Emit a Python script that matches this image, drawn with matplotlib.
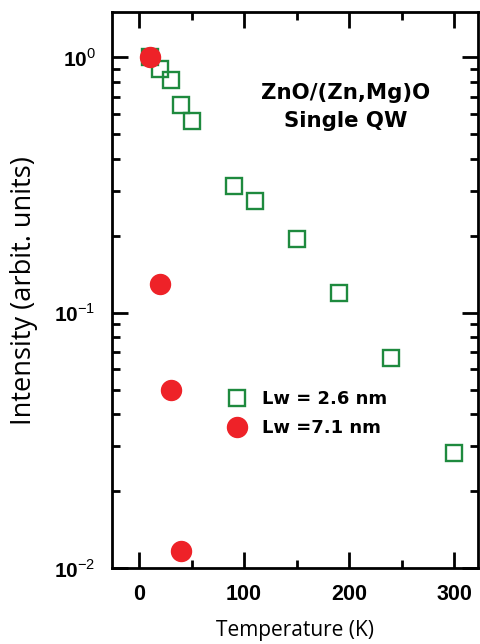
import math
import matplotlib
matplotlib.use('Agg')
import matplotlib.pyplot as plt
from matplotlib.ticker import LogLocator, FuncFormatter, NullFormatter, MultipleLocator

# data
temp_26 = [10, 20, 30, 40, 50, 90, 110, 150, 190, 240, 300]
int_26 = [1.0, 0.903, 0.815, 0.652, 0.566, 0.315, 0.274, 0.194, 0.120, 0.0664, 0.0282]
temp_71 = [10, 20, 30, 40]
int_71 = [1.0, 0.129, 0.0497, 0.0117]

label_26 = 'Lw = 2.6 nm'
label_71 = 'Lw =7.1 nm'
sample_text = 'ZnO/(Zn,Mg)O\nSingle QW'

green = '#1e8a3e'
red = '#ee2228'

plt.rcParams['mathtext.fontset'] = 'custom'
plt.rcParams['mathtext.rm'] = 'Liberation Sans'
plt.rcParams['mathtext.bf'] = 'Liberation Sans:bold'

fig = plt.figure(figsize=(4.81, 6.44), dpi=100)
ax = fig.add_axes([0.2335, 0.118, 0.761, 0.8626])

ax.plot(temp_26, int_26, linestyle='none', marker='s', markersize=11.5,
        markerfacecolor='none', markeredgecolor=green, markeredgewidth=1.7,
        label=label_26, zorder=3)
ax.plot(temp_71, int_71, linestyle='none', marker='o', markersize=14.4,
        markerfacecolor=red, markeredgecolor=red, label=label_71, zorder=4)

ax.set_yscale('log')
ax.set_xlim(-25.4, 323)
ax.set_ylim(1e-2, 1.5)

ax.xaxis.set_major_locator(MultipleLocator(100))
ax.xaxis.set_minor_locator(MultipleLocator(50))
ax.yaxis.set_major_locator(LogLocator(base=10))
ax.yaxis.set_minor_locator(LogLocator(base=10, subs=range(2, 10)))
ax.yaxis.set_minor_formatter(NullFormatter())
ax.yaxis.set_major_formatter(FuncFormatter(
    lambda v, p: r'$\mathbf{10}^{%d}$' % round(math.log10(v))))

ax.tick_params(which='both', direction='in', top=True, right=True, width=2)
ax.tick_params(which='major', length=11.5, labelsize=15)
ax.tick_params(which='minor', length=5.8)
ax.tick_params(axis='x', pad=11.5, labelsize=15.5)
ax.tick_params(axis='y', pad=12)
for t in ax.get_xticklabels():
    t.set_fontweight('bold')
    t.set_family('Liberation Sans')
for sp in ax.spines.values():
    sp.set_linewidth(2)

ax.set_xlabel('Temperature (K)', family='Open Sans', fontsize=15, labelpad=11)
ax.set_ylabel('Intensity (arbit. units)', family='Open Sans', fontsize=19.5)
ax.yaxis.set_label_coords(-0.203, 0.5)

ax.text(0.638, 0.830, sample_text, transform=ax.transAxes, ha='center', va='center',
        fontsize=15.3, fontweight='bold', family='DejaVu Sans', linespacing=1.55)

ax.legend(loc='center left', bbox_to_anchor=(0.263, 0.278), frameon=False,
          prop={'family': 'DejaVu Sans', 'weight': 'bold', 'size': 13},
          handletextpad=0.75, labelspacing=0.6, handlelength=1.3, markerscale=1.0)

fig.savefig('out.png', dpi=100)
